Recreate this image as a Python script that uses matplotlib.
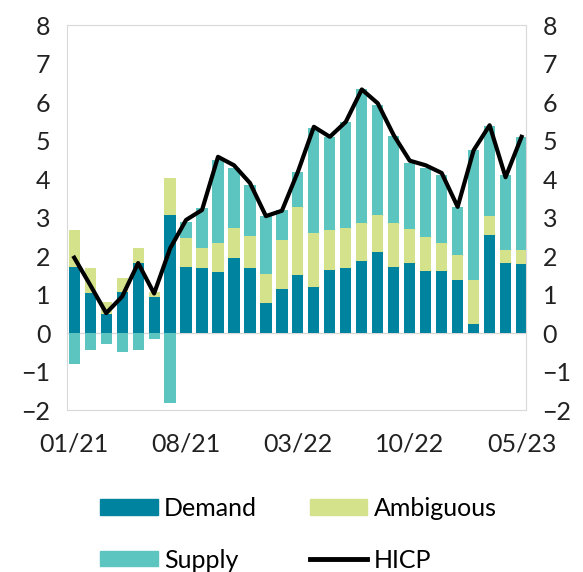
import numpy as np
import matplotlib
matplotlib.use("Agg")
import matplotlib.pyplot as plt
from matplotlib.patches import Patch
from matplotlib.lines import Line2D

plt.rcParams['font.family'] = ['Lato', 'DejaVu Sans']

# monthly data 01/21 .. 05/23
demand = [1.72, 1.05, 0.51, 1.07, 1.81, 0.94, 3.06, 1.72, 1.68, 1.59,
          1.94, 1.68, 0.77, 1.15, 1.50, 1.19, 1.64, 1.68, 1.87, 2.10,
          1.72, 1.83, 1.61, 1.61, 1.38, 0.25, 2.55, 1.83, 1.79]
ambiguous = [0.96, 0.63, 0.30, 0.35, 0.41, 0.13, 0.97, 0.74, 0.52, 0.74,
             0.80, 0.84, 0.76, 1.27, 1.78, 1.40, 1.04, 1.06, 1.00, 0.98,
             1.13, 0.88, 0.88, 0.72, 0.64, 1.13, 0.49, 0.34, 0.38]
supply = [-0.79, -0.44, -0.29, -0.49, -0.44, -0.14, -1.81, 0.43, 1.04, 2.18,
          1.56, 1.32, 1.51, 0.79, 0.91, 2.75, 2.42, 2.75, 3.46, 2.84,
          2.27, 1.70, 1.79, 1.77, 1.26, 3.37, 2.34, 1.93, 2.93]
hicp = [1.96, 1.25, 0.52, 0.95, 1.82, 1.03, 2.2, 2.94, 3.2, 4.58,
        4.36, 3.9, 3.04, 3.18, 4.19, 5.36, 5.1, 5.49, 6.33, 5.97,
        5.14, 4.48, 4.36, 4.16, 3.28, 4.75, 5.4, 4.05, 5.1]
tick_labels = ['01/21', '08/21', '03/22', '10/22', '05/23']

c_dem = '#00839F'
c_amb = '#D5E28C'
c_sup = '#5DC5BF'

x = np.arange(len(demand))
demand = np.array(demand)
ambiguous = np.array(ambiguous)
supply = np.array(supply)

fig = plt.figure(figsize=(5.83, 5.72), dpi=100)
ax = fig.add_axes([0.115, 0.283, 0.787, 0.673])

ax.bar(x, demand, width=0.7, color=c_dem, zorder=2)
ax.bar(x, ambiguous, width=0.7, bottom=demand, color=c_amb, zorder=2)
sup_bottom = np.where(supply >= 0, demand + ambiguous, 0)
ax.bar(x, supply, width=0.7, bottom=sup_bottom, color=c_sup, zorder=2)
ax.plot(x, hicp, color='black', lw=3, zorder=3)
ax.axhline(0, color='#d9d9d9', lw=1, zorder=1)

ax.set_xlim(-0.45, 28.27)
ax.set_ylim(-2, 8)
ax.set_yticks(range(-2, 9))
ax.set_xticks(x[::7])
ax.set_xticklabels(tick_labels)
ax.tick_params(axis='both', length=0, labelsize=18, colors='#222222')
ax.tick_params(axis='x', pad=16)
ax.tick_params(axis='y', pad=12, labelright=True)
for s in ax.spines.values():
    s.set_color('#d9d9d9')

handles = [Patch(color=c_dem, label='Demand'),
           Patch(color=c_sup, label='Supply'),
           Patch(color=c_amb, label='Ambiguous'),
           Line2D([], [], color='black', lw=3.5, label='HICP')]
fig.legend(handles=handles, ncol=2, loc='center', bbox_to_anchor=(0.512, 0.066),
           frameon=False, fontsize=18, handlelength=2.3, handleheight=0.55,
           handletextpad=0.25, labelspacing=1.15, columnspacing=2.1)

fig.savefig('out.png', dpi=100)
